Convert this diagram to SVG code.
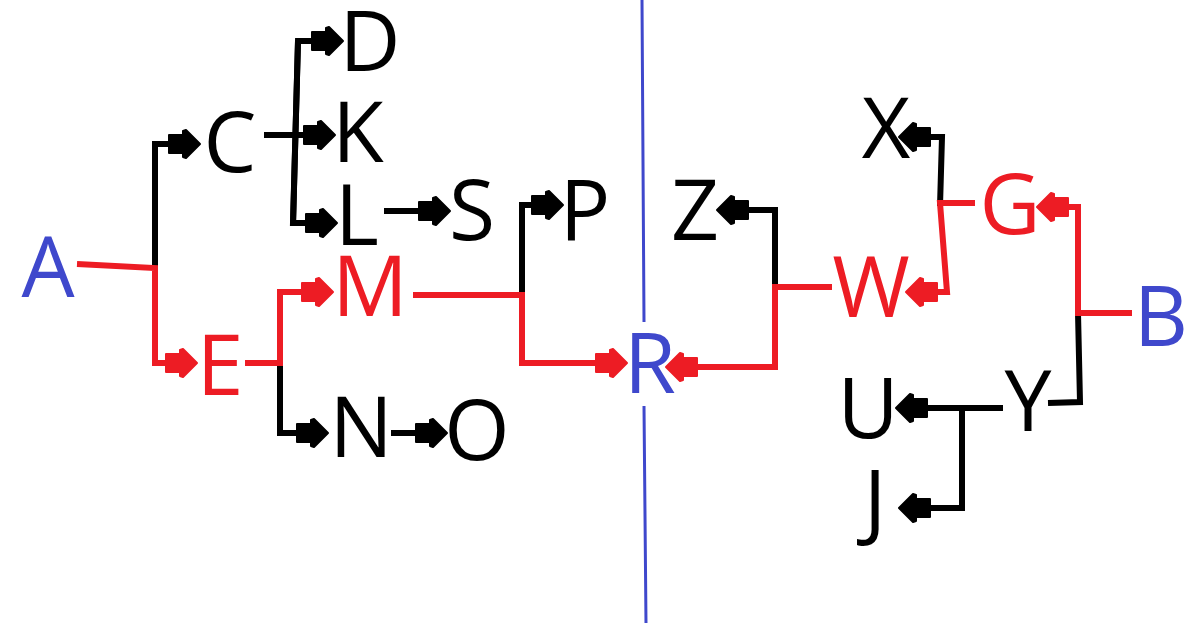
<svg xmlns="http://www.w3.org/2000/svg" width="1199" height="623" viewBox="0 0 1199 623">
<style>
text{font-family:"Open Sans","Noto Sans",sans-serif;font-size:84px;text-anchor:middle}
.k{fill:#000}.r{fill:#ed1c24}.b{fill:#3f48cc}
.lk{fill:none;stroke:#000;stroke-width:6}
.lr{fill:none;stroke:#ed1c24;stroke-width:6}
.ak{marker-end:url(#hk)}.ar{marker-end:url(#hr)}
</style>
<defs>
<marker id="hk" viewBox="-34 -17 36 34" refX="-16" refY="0" markerWidth="36" markerHeight="34" markerUnits="userSpaceOnUse" orient="auto">
<path d="M0,0 L-14,-14 L-17,-13 L-17,-9 L-31,-9 L-31,9 L-17,9 L-17,13 L-14,14 Z" fill="#000" stroke="#000" stroke-width="2" stroke-linejoin="round"/>
</marker>
<marker id="hr" viewBox="-34 -17 36 34" refX="-16" refY="0" markerWidth="36" markerHeight="34" markerUnits="userSpaceOnUse" orient="auto">
<path d="M0,0 L-14,-14 L-17,-13 L-17,-9 L-31,-9 L-31,9 L-17,9 L-17,13 L-14,14 Z" fill="#ed1c24" stroke="#ed1c24" stroke-width="2" stroke-linejoin="round"/>
</marker>
</defs>
<path d="M642,0 L644,322 M644,406 L646,623" fill="none" stroke="#3f48cc" stroke-width="3"/>
<g id="connectors">
<path class="lk ak" d="M155,268 V144 H184"/>
<path class="lk ak" d="M264,135 H319"/>
<path class="lk ak" d="M293,226 L298,41 H327"/>
<path class="lk ak" d="M298,41 L293,223 H321"/>
<path class="lk ak" d="M384,211 H434"/>
<path class="lk ak" d="M280,363 V433 H312"/>
<path class="lk ak" d="M391,433 H431"/>
<path class="lk ak" d="M522,296 V205 H547"/>
<path class="lk ak" d="M775,290 V210 H733"/>
<path class="lk ak" d="M940,206 L942,137 H915"/>
<path class="lk" d="M1078,313 L1080,402 L1048,403"/>
<path class="lk ak" d="M1003,408 H912"/>
<path class="lk ak" d="M962,408 V508 H915"/>
<path class="lr ar" d="M77,264 L155,268 V363 H181"/>
<path class="lr ar" d="M245,363 H280 V292 H317"/>
<path class="lr ar" d="M413,295 H522 V363 H611"/>
<path class="lr ar" d="M832,287 H775 V367 H682"/>
<path class="lr ar" d="M975,203 H940 L947,292 H922"/>
<path class="lr ar" d="M1132,313 H1078 V207 H1053"/>
</g>
<g id="A"><text class="b" x="48" y="297">A</text></g>
<g id="C"><text class="k" x="230" y="172">C</text></g>
<g id="D"><text class="k" x="370" y="71">D</text></g>
<g id="K"><text class="k" x="358" y="162">K</text></g>
<g id="L"><text class="k" x="357" y="245">L</text></g>
<g id="S"><text class="k" x="472" y="240">S</text></g>
<g id="P"><text class="k" x="585" y="241">P</text></g>
<g id="M"><text class="r" x="370" y="316">M</text></g>
<g id="E"><text class="r" x="220" y="395">E</text></g>
<g id="N"><text class="k" x="361" y="457">N</text></g>
<g id="O"><text class="k" x="477" y="460">O</text></g>
<g id="R"><text class="b" x="650" y="393">R</text></g>
<g id="Z"><text class="k" x="695" y="240">Z</text></g>
<g id="W"><text class="r" x="871" y="317">W</text></g>
<g id="X"><text class="k" x="886" y="158">X</text></g>
<g id="G"><text class="r" x="1010" y="234">G</text></g>
<g id="B"><text class="b" x="1161" y="346">B</text></g>
<g id="Y"><text class="k" x="1028" y="431">Y</text></g>
<g id="U"><text class="k" x="868" y="438">U</text></g>
<g id="J"><text class="k" x="875" y="530">J</text></g>
</svg>
